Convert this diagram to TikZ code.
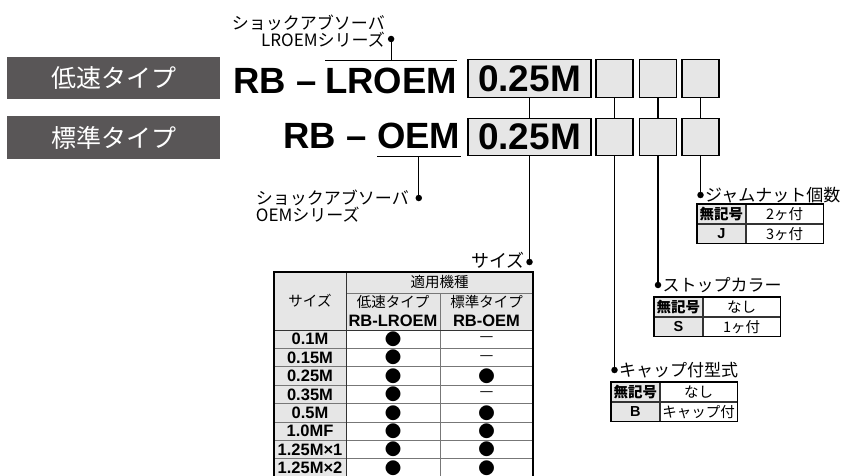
\documentclass[tikz,border=0pt]{standalone}
\usepackage{fontspec}
\setmainfont{Liberation Sans}
\newfontfamily\jp{Noto Sans CJK JP}
\usepackage{xcolor}
\usetikzlibrary{positioning, calc}
\definecolor{typegray}{HTML}{595657}
\definecolor{cellgray}{HTML}{E6E6E6}
\definecolor{rulegray}{HTML}{777777}
\newcommand\fitMark{{\fontsize{16.5}{16.5}\selectfont ●}}
\newcommand\noneMark{{\fontsize{15.5}{15.5}\selectfont —}}

\begin{document}
\begin{tikzpicture}[x=1pt, y=-1pt]
	\tikzset{typebox/.style={fill=typegray, text=white, minimum width=213pt, minimum height=42pt, inner sep=0pt, font=\jp\fontsize{25}{25}\selectfont}}
	\tikzset{code/.style={font=\fontsize{36.5}{36.5}\selectfont\bfseries, inner sep=0pt, anchor=base west}}
	\tikzset{slot/.style={draw, fill=cellgray, line width=1.2pt, inner sep=0pt, minimum height=37.5pt, font=\fontsize{37}{37}\selectfont\bfseries}}
	\tikzset{dot/.style={circle, fill, inner sep=0pt, minimum size=6.5pt}}
	\tikzset{lead/.style={line width=1.1pt}}
	\tikzset{tag/.style={font=\jp\fontsize{17}{17}\selectfont, inner sep=1pt}}
	\tikzset{keycell/.style={draw=black!80, line width=0.8pt, fill=cellgray, minimum width=48pt, minimum height=19pt, inner sep=0pt, font=\bfseries\fontsize{14.5}{14.5}\selectfont}}
	\tikzset{valcell/.style={draw=black!80, line width=0.8pt, fill=white, minimum width=77pt, minimum height=19pt, inner sep=0pt, font=\jp\fontsize{14.5}{14.5}\selectfont}}
	\tikzset{cell/.style={inner sep=0pt, font=\jp\fontsize{14.5}{14.5}\selectfont}}
	\tikzset{sign/.style={inner sep=0pt, font=\jp}}
	\tikzset{cellcode/.style={inner sep=0pt, font=\bfseries\fontsize{16.5}{16.5}\selectfont}}
	\tikzset{tablerule/.style={rulegray, line width=0.9pt}}

	\useasboundingbox (0,0) rectangle (843,476);
	\clip (0,0) rectangle (843,476);

	% type labels
	\node (slow) [typebox] at (113.5,78) {低速タイプ};
	\node (std) [typebox] at (113.5,137.5) {標準タイプ};

	% model codes
	\node (rb1) [code] at (233,94) {RB};
	\node (dash1) [code] at (296,94) {–};
	\node (lroem) [code] at (325,94) {LROEM};
	\node (rb2) [code] at (283,149) {RB};
	\node (dash2) [code] at (346,149) {–};
	\node (oem) [code] at (377,149) {OEM};

	\coordinate (over) at ($(lroem.north)+(0,-8)$);
	\draw[lead] ($(lroem.north west)+(0,-8)$) -- ($(lroem.north east)+(0,-8)$);
	\node (lrdot) [dot] at (over |- 0,39) {};
	\draw[lead] (over) -- (lrdot);
	\node (lrtag) [tag, align=right, anchor=south east] at (386,48) {ショックアブソーバ\\LROEMシリーズ};

	\coordinate (under) at ($(oem.south)+(0,7)$);
	\draw[lead] ($(oem.south west)+(0,7)$) -- ($(oem.south east)+(0,7)$);
	\node (oemdot) [dot] at (under |- 0,198) {};
	\draw[lead] (under) -- (oemdot);
	\node (oemtag) [tag, align=left, anchor=north east] at (410,189) {ショックアブソーバ\\OEMシリーズ};

	% option slots
	\node (size1) [slot, minimum width=123pt] at (529.5,78.5) {0.25M};
	\node (size2) [slot, minimum width=123pt] at (529.5,137) {0.25M};
	\draw[lead] (size1) -- (size2);
	\foreach \n/\x in {cap/614.5, collar/658, nut/700.5}
		{
		\node (\n1) [slot, minimum width=37pt] at (\x,78.5) {};
		\node (\n2) [slot, minimum width=37pt] at (\x,137) {};
		\draw[lead] (\n1) -- (\n2);
		}

	\node (sizedot) [dot] at (529.5,262) {};
	\node (capdot) [dot] at (614.5,370) {};
	\node (collardot) [dot] at (658,285) {};
	\node (nutdot) [dot] at (700.5,195) {};
	\draw[lead] (size2) -- (sizedot);
	\draw[lead] (cap2) -- (capdot);
	\draw[lead] (collar2) -- (collardot);
	\draw[lead] (nut2) -- (nutdot);

	\node (sizetag) [tag, anchor=east, font=\jp\fontsize{18}{18}\selectfont] at ($(sizedot.west)+(0,-2)$) {サイズ};
	\node (nuttag) [tag, anchor=west] at (nutdot.east) {ジャムナット個数};
	\node (collartag) [tag, anchor=west] at (collardot.east) {ストップカラー};
	\node (captag) [tag, anchor=west] at (capdot.east) {キャップ付型式};

	% option tables
	\foreach \t/\x/\y/\va/\kb/\vb in {nut/697/204/2ヶ付/J/3ヶ付, collar/654/297/なし/S/1ヶ付, cap/611/382/なし/B/キャップ付}
		{
		\node (\t key1) [keycell, anchor=north west] at (\x,\y) {\jp 無記号};
		\node (\t val1) [valcell, anchor=west] at (\t key1.east) {\va};
		\node (\t key2) [keycell, anchor=north] at (\t key1.south) {\kb};
		\node (\t val2) [valcell, anchor=west] at (\t key2.east) {\vb};
		\draw[line width=1.1pt] (\t key1.north west) rectangle (\t val2.south east);
		}

	% size table
	\fill[cellgray] (274,272) rectangle (533,330);
	\fill[cellgray] (274,330) rectangle (346,478);
	\draw[tablerule] (346,293) -- (533,293);
	\draw[tablerule] (440,293) -- (440,478);
	\foreach \i in {1,...,7}
		\draw[tablerule] (274,{330+18.4*\i}) -- (533,{330+18.4*\i});
	\draw[line width=1pt, black!80] (346,272) -- (346,478);
	\draw[line width=1pt, black!80] (274,330) -- (533,330);
	\draw[line width=1.2pt] (274,478) -- (274,272) -- (533,272) -- (533,478);

	\node (headsize) [cell] at (310,301) {サイズ};
	\node (headmodel) [cell] at (439.5,282.5) {適用機種};
	\node (headlow) [cell] at (393,302) {低速タイプ};
	\node (headstd) [cell] at (486.5,302) {標準タイプ};
	\node (headlowcode) [cellcode] at (393,320.5) {RB-LROEM};
	\node (headstdcode) [cellcode] at (486.5,320.5) {RB-OEM};

	\foreach \s/\a/\b [count=\i] in {0.1M/\fitMark/\noneMark, 0.15M/\fitMark/\noneMark, 0.25M/\fitMark/\fitMark, 0.35M/\fitMark/\noneMark, 0.5M/\fitMark/\fitMark, 1.0MF/\fitMark/\fitMark, 1.25M×1/\fitMark/\fitMark, 1.25M×2/\fitMark/\fitMark}
		{
		\node (sz\i) [cellcode] at (310,{330+18.4*(\i-0.5)}) {\s};
		\node (lo\i) [sign] at (393,{330+18.4*(\i-0.5)}) {\a};
		\node (st\i) [sign] at (486.5,{330+18.4*(\i-0.5)}) {\b};
		}
\end{tikzpicture}
\end{document}
